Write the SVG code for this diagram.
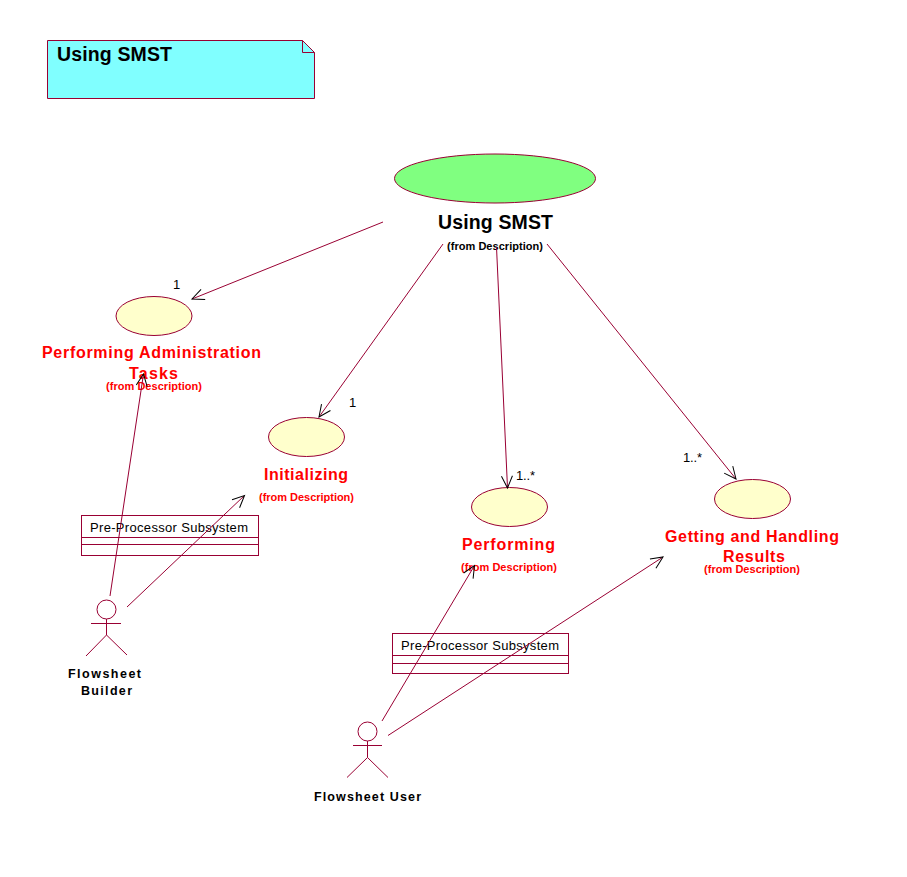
<svg xmlns="http://www.w3.org/2000/svg" width="907" height="877" viewBox="0 0 907 877">
<style>
.s{stroke:#990033;stroke-width:1;fill:none;shape-rendering:crispEdges}
.c line{stroke:#990033;stroke-width:1;marker-end:url(#a)}
text{font-family:"Liberation Sans",Arial,sans-serif}
.t{font-weight:bold;font-size:19.5px;fill:#000}
.r{font-weight:bold;font-size:16px;fill:#f00}
.f{font-weight:bold;font-size:11px}
.n{font-size:13px;fill:#000}
.b{font-weight:bold;font-size:12.5px;fill:#000}
</style>
<defs>
<marker id="a" viewBox="-13 -7 14 14" refX="0" refY="0" markerWidth="14" markerHeight="14" markerUnits="userSpaceOnUse" orient="auto" overflow="visible">
<path d="M-12 -5.5L0 0L-12 5.5" fill="none" stroke="#000" stroke-width="1"/>
</marker>
</defs>
<rect width="907" height="877" fill="#fff"/>
<g id="note">
<path d="M47.5 40.5H302.5L314.5 52.5V98.5H47.5Z" fill="#80ffff" stroke="#990033"/>
<path d="M302.5 40.5V52.5H314.5" fill="none" stroke="#990033"/>
<text class="t" x="57" y="61" textLength="115">Using SMST</text>
</g>
<g id="main">
<ellipse cx="495" cy="178.5" rx="100.5" ry="24.5" fill="#80ff80" stroke="#990033"/>
<text class="t" x="438" y="229" textLength="115">Using SMST</text>
<text class="f" x="447" y="250" textLength="96">(from Description)</text>
</g>
<g id="admin">
<ellipse cx="154" cy="316" rx="38" ry="19.5" fill="#ffffcc" stroke="#990033"/>
<text class="r" x="42" y="358" textLength="219">Performing Administration</text>
<text class="r" x="129" y="379" textLength="49">Tasks</text>
<text class="f" fill="#f00" x="106" y="390" textLength="96">(from Description)</text>
</g>
<g id="init">
<ellipse cx="306.5" cy="437" rx="38" ry="19.5" fill="#ffffcc" stroke="#990033"/>
<text class="r" x="264" y="480" textLength="84">Initializing</text>
<text class="f" fill="#f00" x="259" y="501" textLength="95">(from Description)</text>
</g>
<g id="perf">
<ellipse cx="509.5" cy="507" rx="38" ry="19.5" fill="#ffffcc" stroke="#990033"/>
<text class="r" x="462" y="550" textLength="93">Performing</text>
<text class="f" fill="#f00" x="461" y="571" textLength="96">(from Description)</text>
</g>
<g id="results">
<ellipse cx="752.5" cy="499" rx="38" ry="19.5" fill="#ffffcc" stroke="#990033"/>
<text class="r" x="665" y="542" textLength="174">Getting and Handling</text>
<text class="r" x="723" y="562" textLength="62">Results</text>
<text class="f" fill="#f00" x="704" y="573" textLength="96">(from Description)</text>
</g>
<g id="class1">
<rect class="s" x="81.5" y="515.5" width="177" height="40"/>
<path class="s" d="M81.5 537.5H258.5M81.5 544.5H258.5"/>
<text class="n" x="90" y="532" textLength="158">Pre-Processor Subsystem</text>
</g>
<g id="class2">
<rect class="s" x="392.5" y="633.5" width="176" height="40"/>
<path class="s" d="M392.5 655.5H568.5M392.5 663.5H568.5"/>
<text class="n" x="401" y="650" textLength="158">Pre-Processor Subsystem</text>
</g>
<g id="actor1">
<circle cx="106.5" cy="609.5" r="9.5" fill="none" stroke="#990033"/>
<path d="M91 623.5H121M106.5 619V635M86 656L106.5 635L127 655" fill="none" stroke="#990033"/>
<text class="b" x="68" y="678" textLength="73">Flowsheet</text>
<text class="b" x="81" y="695" textLength="51">Builder</text>
</g>
<g id="actor2">
<circle cx="367.5" cy="731.5" r="9.5" fill="none" stroke="#990033"/>
<path d="M353 745.5H382M367.5 741V757.5M347 777.5L367.5 757.5L388 777.5" fill="none" stroke="#990033"/>
<text class="b" x="314" y="801" textLength="107">Flowsheet User</text>
</g>
<g id="connectors" class="c">
<line x1="383" y1="222" x2="192" y2="299"/>
<line x1="443" y1="244" x2="319" y2="417"/>
<line x1="496.5" y1="247" x2="507.5" y2="488"/>
<line x1="547" y1="244" x2="736" y2="479"/>
<line x1="110" y1="596" x2="143.5" y2="374"/>
<line x1="127" y1="607" x2="244.5" y2="495.5"/>
<line x1="382" y1="721" x2="474.5" y2="565.5"/>
<line x1="388" y1="735.5" x2="663" y2="557"/>
</g>
<g id="multiplicities">
<text class="n" x="173" y="289">1</text>
<text class="n" x="349" y="407">1</text>
<text class="n" x="516" y="480" textLength="19">1..*</text>
<text class="n" x="683" y="462" textLength="19">1..*</text>
</g>
</svg>
